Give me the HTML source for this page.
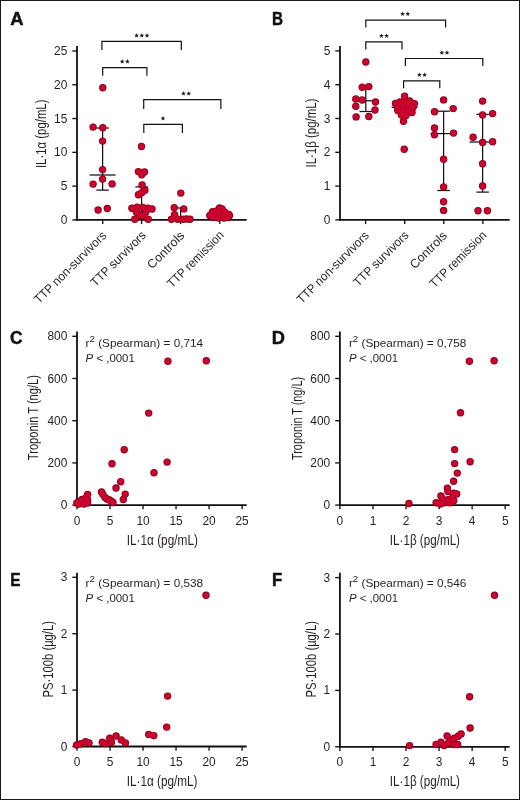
<!DOCTYPE html>
<html><head><meta charset="utf-8"><style>
html,body{margin:0;padding:0;background:#fff;}
body{width:520px;height:800px;overflow:hidden;position:relative;}
.fig{position:absolute;left:0;top:0;width:520px;height:800px;box-sizing:border-box;border:1px solid #1a1a1a;background:#fff;}
svg{position:absolute;left:0;top:0;will-change:transform;}
text{font-family:"Liberation Sans", sans-serif;}
</style></head><body>
<div class="fig"></div>
<svg width="520" height="800" viewBox="0 0 520 800" font-family='"Liberation Sans", sans-serif'>
<text x="0" y="0" transform="translate(10.20 24.60) scale(1.05 1)" font-size="17.5" font-weight="bold" stroke="#111" stroke-width="0.45" fill="#111">A</text>
<line x1="77.00" y1="46.00" x2="77.00" y2="220.80" stroke="#111" stroke-width="1.8"/>
<line x1="72.30" y1="219.90" x2="77.00" y2="219.90" stroke="#111" stroke-width="1.35"/>
<text x="0" y="0" transform="translate(67.30 223.90) scale(0.96 1)" font-size="12.4" text-anchor="end" fill="#231f20">0</text>
<line x1="72.30" y1="186.12" x2="77.00" y2="186.12" stroke="#111" stroke-width="1.35"/>
<text x="0" y="0" transform="translate(67.30 190.12) scale(0.96 1)" font-size="12.4" text-anchor="end" fill="#231f20">5</text>
<line x1="72.30" y1="152.34" x2="77.00" y2="152.34" stroke="#111" stroke-width="1.35"/>
<text x="0" y="0" transform="translate(67.30 156.34) scale(0.96 1)" font-size="12.4" text-anchor="end" fill="#231f20">10</text>
<line x1="72.30" y1="118.56" x2="77.00" y2="118.56" stroke="#111" stroke-width="1.35"/>
<text x="0" y="0" transform="translate(67.30 122.56) scale(0.96 1)" font-size="12.4" text-anchor="end" fill="#231f20">15</text>
<line x1="72.30" y1="84.78" x2="77.00" y2="84.78" stroke="#111" stroke-width="1.35"/>
<text x="0" y="0" transform="translate(67.30 88.78) scale(0.96 1)" font-size="12.4" text-anchor="end" fill="#231f20">20</text>
<line x1="72.30" y1="51.00" x2="77.00" y2="51.00" stroke="#111" stroke-width="1.35"/>
<text x="0" y="0" transform="translate(67.30 55.00) scale(0.96 1)" font-size="12.4" text-anchor="end" fill="#231f20">25</text>
<line x1="76.10" y1="219.90" x2="246.70" y2="219.90" stroke="#111" stroke-width="1.8"/>
<line x1="102.70" y1="219.90" x2="102.70" y2="224.10" stroke="#111" stroke-width="1.35"/>
<line x1="141.60" y1="219.90" x2="141.60" y2="224.10" stroke="#111" stroke-width="1.35"/>
<line x1="180.60" y1="219.90" x2="180.60" y2="224.10" stroke="#111" stroke-width="1.35"/>
<line x1="219.80" y1="219.90" x2="219.80" y2="224.10" stroke="#111" stroke-width="1.35"/>
<text x="46.00" y="168.10" font-size="14.5" textLength="68.60" lengthAdjust="spacingAndGlyphs" transform="rotate(-90 46.00 168.10)" fill="#231f20">IL·1α (pg/mL)</text>
<text x="107.10" y="236.30" font-size="12.3" text-anchor="end" textLength="96.20" lengthAdjust="spacingAndGlyphs" transform="rotate(-45 107.10 236.30)" fill="#231f20">TTP non-survivors</text>
<text x="146.80" y="236.00" font-size="12.3" text-anchor="end" textLength="72.40" lengthAdjust="spacingAndGlyphs" transform="rotate(-45 146.80 236.00)" fill="#231f20">TTP survivors</text>
<text x="185.20" y="236.40" font-size="12.3" text-anchor="end" textLength="46.80" lengthAdjust="spacingAndGlyphs" transform="rotate(-45 185.20 236.40)" fill="#231f20">Controls</text>
<text x="224.70" y="235.80" font-size="12.3" text-anchor="end" textLength="74.60" lengthAdjust="spacingAndGlyphs" transform="rotate(-45 224.70 235.80)" fill="#231f20">TTP remission</text>
<polyline points="101.90,50.10 101.90,41.30 181.30,41.30 181.30,50.10" fill="none" stroke="#111" stroke-width="1.2"/>
<polygon points="136.60,33.10 137.25,34.71 138.98,34.83 137.65,35.94 138.07,37.62 136.60,36.70 135.13,37.62 135.55,35.94 134.22,34.83 135.95,34.71" fill="#231f20"/>
<polygon points="141.80,33.10 142.45,34.71 144.18,34.83 142.85,35.94 143.27,37.62 141.80,36.70 140.33,37.62 140.75,35.94 139.42,34.83 141.15,34.71" fill="#231f20"/>
<polygon points="147.00,33.10 147.65,34.71 149.38,34.83 148.05,35.94 148.47,37.62 147.00,36.70 145.53,37.62 145.95,35.94 144.62,34.83 146.35,34.71" fill="#231f20"/>
<polyline points="102.70,75.80 102.70,67.70 146.90,67.70 146.90,75.80" fill="none" stroke="#111" stroke-width="1.2"/>
<polygon points="122.20,59.10 122.85,60.71 124.58,60.83 123.25,61.94 123.67,63.62 122.20,62.70 120.73,63.62 121.15,61.94 119.82,60.83 121.55,60.71" fill="#231f20"/>
<polygon points="127.40,59.10 128.05,60.71 129.78,60.83 128.45,61.94 128.87,63.62 127.40,62.70 125.93,63.62 126.35,61.94 125.02,60.83 126.75,60.71" fill="#231f20"/>
<polyline points="143.70,109.00 143.70,99.60 220.90,99.60 220.90,109.00" fill="none" stroke="#111" stroke-width="1.2"/>
<polygon points="183.50,91.10 184.15,92.71 185.88,92.83 184.55,93.94 184.97,95.62 183.50,94.70 182.03,95.62 182.45,93.94 181.12,92.83 182.85,92.71" fill="#231f20"/>
<polygon points="188.70,91.10 189.35,92.71 191.08,92.83 189.75,93.94 190.17,95.62 188.70,94.70 187.23,95.62 187.65,93.94 186.32,92.83 188.05,92.71" fill="#231f20"/>
<polyline points="143.80,133.10 143.80,124.40 182.40,124.40 182.40,133.10" fill="none" stroke="#111" stroke-width="1.2"/>
<polygon points="163.00,116.00 163.65,117.61 165.38,117.73 164.05,118.84 164.47,120.52 163.00,119.60 161.53,120.52 161.95,118.84 160.62,117.73 162.35,117.61" fill="#231f20"/>
<line x1="102.60" y1="128.00" x2="102.60" y2="190.10" stroke="#111" stroke-width="1.25"/>
<line x1="96.35" y1="128.00" x2="108.85" y2="128.00" stroke="#111" stroke-width="1.25"/>
<line x1="96.35" y1="190.10" x2="108.85" y2="190.10" stroke="#111" stroke-width="1.25"/>
<line x1="89.60" y1="175.00" x2="115.60" y2="175.00" stroke="#111" stroke-width="1.25"/>
<line x1="141.60" y1="186.90" x2="141.60" y2="212.00" stroke="#111" stroke-width="1.25"/>
<line x1="135.35" y1="186.90" x2="147.85" y2="186.90" stroke="#111" stroke-width="1.25"/>
<line x1="135.35" y1="212.00" x2="147.85" y2="212.00" stroke="#111" stroke-width="1.25"/>
<line x1="128.60" y1="208.00" x2="154.60" y2="208.00" stroke="#111" stroke-width="1.25"/>
<line x1="180.60" y1="208.00" x2="180.60" y2="217.00" stroke="#111" stroke-width="1.25"/>
<line x1="174.35" y1="208.00" x2="186.85" y2="208.00" stroke="#111" stroke-width="1.25"/>
<line x1="174.35" y1="217.00" x2="186.85" y2="217.00" stroke="#111" stroke-width="1.25"/>
<text x="0" y="0" transform="translate(272.00 24.60) scale(0.87 1)" font-size="17.5" font-weight="bold" stroke="#111" stroke-width="0.45" fill="#111">B</text>
<line x1="340.00" y1="46.00" x2="340.00" y2="220.80" stroke="#111" stroke-width="1.8"/>
<line x1="335.30" y1="219.90" x2="340.00" y2="219.90" stroke="#111" stroke-width="1.35"/>
<text x="0" y="0" transform="translate(330.40 223.90) scale(0.96 1)" font-size="12.4" text-anchor="end" fill="#231f20">0</text>
<line x1="335.30" y1="186.10" x2="340.00" y2="186.10" stroke="#111" stroke-width="1.35"/>
<text x="0" y="0" transform="translate(330.40 190.10) scale(0.96 1)" font-size="12.4" text-anchor="end" fill="#231f20">1</text>
<line x1="335.30" y1="152.30" x2="340.00" y2="152.30" stroke="#111" stroke-width="1.35"/>
<text x="0" y="0" transform="translate(330.40 156.30) scale(0.96 1)" font-size="12.4" text-anchor="end" fill="#231f20">2</text>
<line x1="335.30" y1="118.50" x2="340.00" y2="118.50" stroke="#111" stroke-width="1.35"/>
<text x="0" y="0" transform="translate(330.40 122.50) scale(0.96 1)" font-size="12.4" text-anchor="end" fill="#231f20">3</text>
<line x1="335.30" y1="84.70" x2="340.00" y2="84.70" stroke="#111" stroke-width="1.35"/>
<text x="0" y="0" transform="translate(330.40 88.70) scale(0.96 1)" font-size="12.4" text-anchor="end" fill="#231f20">4</text>
<line x1="335.30" y1="50.90" x2="340.00" y2="50.90" stroke="#111" stroke-width="1.35"/>
<text x="0" y="0" transform="translate(330.40 54.90) scale(0.96 1)" font-size="12.4" text-anchor="end" fill="#231f20">5</text>
<line x1="339.10" y1="219.90" x2="509.70" y2="219.90" stroke="#111" stroke-width="1.8"/>
<line x1="365.60" y1="219.90" x2="365.60" y2="224.10" stroke="#111" stroke-width="1.35"/>
<line x1="404.70" y1="219.90" x2="404.70" y2="224.10" stroke="#111" stroke-width="1.35"/>
<line x1="443.80" y1="219.90" x2="443.80" y2="224.10" stroke="#111" stroke-width="1.35"/>
<line x1="482.90" y1="219.90" x2="482.90" y2="224.10" stroke="#111" stroke-width="1.35"/>
<text x="315.60" y="167.50" font-size="14.5" textLength="69.00" lengthAdjust="spacingAndGlyphs" transform="rotate(-90 315.60 167.50)" fill="#231f20">IL·1β (pg/mL)</text>
<text x="369.70" y="236.30" font-size="12.3" text-anchor="end" textLength="96.20" lengthAdjust="spacingAndGlyphs" transform="rotate(-45 369.70 236.30)" fill="#231f20">TTP non-survivors</text>
<text x="409.40" y="236.00" font-size="12.3" text-anchor="end" textLength="72.40" lengthAdjust="spacingAndGlyphs" transform="rotate(-45 409.40 236.00)" fill="#231f20">TTP survivors</text>
<text x="447.80" y="236.40" font-size="12.3" text-anchor="end" textLength="46.80" lengthAdjust="spacingAndGlyphs" transform="rotate(-45 447.80 236.40)" fill="#231f20">Controls</text>
<text x="487.30" y="235.80" font-size="12.3" text-anchor="end" textLength="74.60" lengthAdjust="spacingAndGlyphs" transform="rotate(-45 487.30 235.80)" fill="#231f20">TTP remission</text>
<polyline points="365.80,27.50 365.80,20.10 445.60,20.10 445.60,27.50" fill="none" stroke="#111" stroke-width="1.2"/>
<polygon points="402.60,11.50 403.25,13.11 404.98,13.23 403.65,14.34 404.07,16.02 402.60,15.10 401.13,16.02 401.55,14.34 400.22,13.23 401.95,13.11" fill="#231f20"/>
<polygon points="407.80,11.50 408.45,13.11 410.18,13.23 408.85,14.34 409.27,16.02 407.80,15.10 406.33,16.02 406.75,14.34 405.42,13.23 407.15,13.11" fill="#231f20"/>
<polyline points="365.80,49.50 365.80,41.80 402.00,41.80 402.00,49.50" fill="none" stroke="#111" stroke-width="1.2"/>
<polygon points="381.40,33.50 382.05,35.11 383.78,35.23 382.45,36.34 382.87,38.02 381.40,37.10 379.93,38.02 380.35,36.34 379.02,35.23 380.75,35.11" fill="#231f20"/>
<polygon points="386.60,33.50 387.25,35.11 388.98,35.23 387.65,36.34 388.07,38.02 386.60,37.10 385.13,38.02 385.55,36.34 384.22,35.23 385.95,35.11" fill="#231f20"/>
<polyline points="405.40,65.90 405.40,58.50 482.80,58.50 482.80,65.90" fill="none" stroke="#111" stroke-width="1.2"/>
<polygon points="441.80,50.20 442.45,51.81 444.18,51.93 442.85,53.04 443.27,54.72 441.80,53.80 440.33,54.72 440.75,53.04 439.42,51.93 441.15,51.81" fill="#231f20"/>
<polygon points="447.00,50.20 447.65,51.81 449.38,51.93 448.05,53.04 448.47,54.72 447.00,53.80 445.53,54.72 445.95,53.04 444.62,51.93 446.35,51.81" fill="#231f20"/>
<polyline points="403.60,88.30 403.60,80.80 439.80,80.80 439.80,88.30" fill="none" stroke="#111" stroke-width="1.2"/>
<polygon points="419.40,72.50 420.05,74.11 421.78,74.23 420.45,75.34 420.87,77.02 419.40,76.10 417.93,77.02 418.35,75.34 417.02,74.23 418.75,74.11" fill="#231f20"/>
<polygon points="424.60,72.50 425.25,74.11 426.98,74.23 425.65,75.34 426.07,77.02 424.60,76.10 423.13,77.02 423.55,75.34 422.22,74.23 423.95,74.11" fill="#231f20"/>
<line x1="365.80" y1="86.90" x2="365.80" y2="111.50" stroke="#111" stroke-width="1.25"/>
<line x1="359.55" y1="86.90" x2="372.05" y2="86.90" stroke="#111" stroke-width="1.25"/>
<line x1="359.55" y1="111.50" x2="372.05" y2="111.50" stroke="#111" stroke-width="1.25"/>
<line x1="352.80" y1="100.80" x2="378.80" y2="100.80" stroke="#111" stroke-width="1.25"/>
<line x1="404.60" y1="101.50" x2="404.60" y2="113.00" stroke="#111" stroke-width="1.25"/>
<line x1="398.35" y1="101.50" x2="410.85" y2="101.50" stroke="#111" stroke-width="1.25"/>
<line x1="398.35" y1="113.00" x2="410.85" y2="113.00" stroke="#111" stroke-width="1.25"/>
<line x1="391.60" y1="107.30" x2="417.60" y2="107.30" stroke="#111" stroke-width="1.25"/>
<line x1="443.60" y1="111.20" x2="443.60" y2="190.50" stroke="#111" stroke-width="1.25"/>
<line x1="437.35" y1="111.20" x2="449.85" y2="111.20" stroke="#111" stroke-width="1.25"/>
<line x1="437.35" y1="190.50" x2="449.85" y2="190.50" stroke="#111" stroke-width="1.25"/>
<line x1="430.60" y1="133.60" x2="456.60" y2="133.60" stroke="#111" stroke-width="1.25"/>
<line x1="482.60" y1="114.40" x2="482.60" y2="192.10" stroke="#111" stroke-width="1.25"/>
<line x1="476.35" y1="114.40" x2="488.85" y2="114.40" stroke="#111" stroke-width="1.25"/>
<line x1="476.35" y1="192.10" x2="488.85" y2="192.10" stroke="#111" stroke-width="1.25"/>
<line x1="469.60" y1="142.00" x2="495.60" y2="142.00" stroke="#111" stroke-width="1.25"/>
<text x="0" y="0" transform="translate(10.00 344.00) scale(0.99 1)" font-size="17.5" font-weight="bold" stroke="#111" stroke-width="0.45" fill="#111">C</text>
<line x1="77.00" y1="331.50" x2="77.00" y2="506.00" stroke="#111" stroke-width="1.8"/>
<line x1="72.30" y1="505.10" x2="77.00" y2="505.10" stroke="#111" stroke-width="1.35"/>
<text x="0" y="0" transform="translate(67.30 509.10) scale(0.96 1)" font-size="12.4" text-anchor="end" fill="#231f20">0</text>
<line x1="72.30" y1="462.90" x2="77.00" y2="462.90" stroke="#111" stroke-width="1.35"/>
<text x="0" y="0" transform="translate(67.30 466.90) scale(0.96 1)" font-size="12.4" text-anchor="end" fill="#231f20">200</text>
<line x1="72.30" y1="420.70" x2="77.00" y2="420.70" stroke="#111" stroke-width="1.35"/>
<text x="0" y="0" transform="translate(67.30 424.70) scale(0.96 1)" font-size="12.4" text-anchor="end" fill="#231f20">400</text>
<line x1="72.30" y1="378.50" x2="77.00" y2="378.50" stroke="#111" stroke-width="1.35"/>
<text x="0" y="0" transform="translate(67.30 382.50) scale(0.96 1)" font-size="12.4" text-anchor="end" fill="#231f20">600</text>
<line x1="72.30" y1="336.30" x2="77.00" y2="336.30" stroke="#111" stroke-width="1.35"/>
<text x="0" y="0" transform="translate(67.30 340.30) scale(0.96 1)" font-size="12.4" text-anchor="end" fill="#231f20">800</text>
<line x1="76.10" y1="505.10" x2="246.70" y2="505.10" stroke="#111" stroke-width="1.8"/>
<line x1="77.00" y1="505.10" x2="77.00" y2="509.30" stroke="#111" stroke-width="1.35"/>
<text x="0" y="0" transform="translate(77.00 524.50) scale(0.96 1)" font-size="12.4" text-anchor="middle" fill="#231f20">0</text>
<line x1="110.02" y1="505.10" x2="110.02" y2="509.30" stroke="#111" stroke-width="1.35"/>
<text x="0" y="0" transform="translate(110.02 524.50) scale(0.96 1)" font-size="12.4" text-anchor="middle" fill="#231f20">5</text>
<line x1="143.04" y1="505.10" x2="143.04" y2="509.30" stroke="#111" stroke-width="1.35"/>
<text x="0" y="0" transform="translate(143.04 524.50) scale(0.96 1)" font-size="12.4" text-anchor="middle" fill="#231f20">10</text>
<line x1="176.06" y1="505.10" x2="176.06" y2="509.30" stroke="#111" stroke-width="1.35"/>
<text x="0" y="0" transform="translate(176.06 524.50) scale(0.96 1)" font-size="12.4" text-anchor="middle" fill="#231f20">15</text>
<line x1="209.08" y1="505.10" x2="209.08" y2="509.30" stroke="#111" stroke-width="1.35"/>
<text x="0" y="0" transform="translate(209.08 524.50) scale(0.96 1)" font-size="12.4" text-anchor="middle" fill="#231f20">20</text>
<line x1="242.10" y1="505.10" x2="242.10" y2="509.30" stroke="#111" stroke-width="1.35"/>
<text x="0" y="0" transform="translate(242.10 524.50) scale(0.96 1)" font-size="12.4" text-anchor="middle" fill="#231f20">25</text>
<text x="38.50" y="460.20" font-size="14.5" textLength="85.20" lengthAdjust="spacingAndGlyphs" transform="rotate(-90 38.50 460.20)" fill="#231f20">Troponin T (ng/L)</text>
<text x="126.70" y="544.50" font-size="14.5" textLength="71.20" lengthAdjust="spacingAndGlyphs" fill="#231f20">IL·1α (pg/mL)</text>
<text x="85.60" y="346.70" font-size="11.2" textLength="117.50" lengthAdjust="spacingAndGlyphs" fill="#231f20">r<tspan dy="-5" font-size="9.2">2</tspan><tspan dy="5"> (Spearman) = 0,714</tspan></text>
<text x="85.60" y="361.70" font-size="11.2" textLength="49.20" lengthAdjust="spacingAndGlyphs" fill="#231f20"><tspan font-style="italic">P</tspan> &lt; ,0001</text>
<text x="0" y="0" transform="translate(271.80 344.00) scale(1.04 1)" font-size="17.5" font-weight="bold" stroke="#111" stroke-width="0.45" fill="#111">D</text>
<line x1="339.90" y1="331.50" x2="339.90" y2="506.00" stroke="#111" stroke-width="1.8"/>
<line x1="335.20" y1="505.10" x2="339.90" y2="505.10" stroke="#111" stroke-width="1.35"/>
<text x="0" y="0" transform="translate(330.20 509.10) scale(0.96 1)" font-size="12.4" text-anchor="end" fill="#231f20">0</text>
<line x1="335.20" y1="462.90" x2="339.90" y2="462.90" stroke="#111" stroke-width="1.35"/>
<text x="0" y="0" transform="translate(330.20 466.90) scale(0.96 1)" font-size="12.4" text-anchor="end" fill="#231f20">200</text>
<line x1="335.20" y1="420.70" x2="339.90" y2="420.70" stroke="#111" stroke-width="1.35"/>
<text x="0" y="0" transform="translate(330.20 424.70) scale(0.96 1)" font-size="12.4" text-anchor="end" fill="#231f20">400</text>
<line x1="335.20" y1="378.50" x2="339.90" y2="378.50" stroke="#111" stroke-width="1.35"/>
<text x="0" y="0" transform="translate(330.20 382.50) scale(0.96 1)" font-size="12.4" text-anchor="end" fill="#231f20">600</text>
<line x1="335.20" y1="336.30" x2="339.90" y2="336.30" stroke="#111" stroke-width="1.35"/>
<text x="0" y="0" transform="translate(330.20 340.30) scale(0.96 1)" font-size="12.4" text-anchor="end" fill="#231f20">800</text>
<line x1="339.00" y1="505.10" x2="509.60" y2="505.10" stroke="#111" stroke-width="1.8"/>
<line x1="339.90" y1="505.10" x2="339.90" y2="509.30" stroke="#111" stroke-width="1.35"/>
<text x="0" y="0" transform="translate(339.90 524.50) scale(0.96 1)" font-size="12.4" text-anchor="middle" fill="#231f20">0</text>
<line x1="372.96" y1="505.10" x2="372.96" y2="509.30" stroke="#111" stroke-width="1.35"/>
<text x="0" y="0" transform="translate(372.96 524.50) scale(0.96 1)" font-size="12.4" text-anchor="middle" fill="#231f20">1</text>
<line x1="406.02" y1="505.10" x2="406.02" y2="509.30" stroke="#111" stroke-width="1.35"/>
<text x="0" y="0" transform="translate(406.02 524.50) scale(0.96 1)" font-size="12.4" text-anchor="middle" fill="#231f20">2</text>
<line x1="439.08" y1="505.10" x2="439.08" y2="509.30" stroke="#111" stroke-width="1.35"/>
<text x="0" y="0" transform="translate(439.08 524.50) scale(0.96 1)" font-size="12.4" text-anchor="middle" fill="#231f20">3</text>
<line x1="472.14" y1="505.10" x2="472.14" y2="509.30" stroke="#111" stroke-width="1.35"/>
<text x="0" y="0" transform="translate(472.14 524.50) scale(0.96 1)" font-size="12.4" text-anchor="middle" fill="#231f20">4</text>
<line x1="505.20" y1="505.10" x2="505.20" y2="509.30" stroke="#111" stroke-width="1.35"/>
<text x="0" y="0" transform="translate(505.20 524.50) scale(0.96 1)" font-size="12.4" text-anchor="middle" fill="#231f20">5</text>
<text x="301.90" y="460.00" font-size="14.5" textLength="83.10" lengthAdjust="spacingAndGlyphs" transform="rotate(-90 301.90 460.00)" fill="#231f20">Troponin T (ng/L)</text>
<text x="389.80" y="544.50" font-size="14.5" textLength="70.20" lengthAdjust="spacingAndGlyphs" fill="#231f20">IL·1β (pg/mL)</text>
<text x="348.90" y="346.70" font-size="11.2" textLength="117.50" lengthAdjust="spacingAndGlyphs" fill="#231f20">r<tspan dy="-5" font-size="9.2">2</tspan><tspan dy="5"> (Spearman) = 0,758</tspan></text>
<text x="348.90" y="361.70" font-size="11.2" textLength="49.20" lengthAdjust="spacingAndGlyphs" fill="#231f20"><tspan font-style="italic">P</tspan> &lt; ,0001</text>
<text x="0" y="0" transform="translate(10.20 585.80) scale(0.88 1)" font-size="17.5" font-weight="bold" stroke="#111" stroke-width="0.45" fill="#111">E</text>
<line x1="77.00" y1="572.70" x2="77.00" y2="747.40" stroke="#111" stroke-width="1.8"/>
<line x1="72.30" y1="746.50" x2="77.00" y2="746.50" stroke="#111" stroke-width="1.35"/>
<text x="0" y="0" transform="translate(67.30 750.50) scale(0.96 1)" font-size="12.4" text-anchor="end" fill="#231f20">0</text>
<line x1="72.30" y1="690.10" x2="77.00" y2="690.10" stroke="#111" stroke-width="1.35"/>
<text x="0" y="0" transform="translate(67.30 694.10) scale(0.96 1)" font-size="12.4" text-anchor="end" fill="#231f20">1</text>
<line x1="72.30" y1="633.70" x2="77.00" y2="633.70" stroke="#111" stroke-width="1.35"/>
<text x="0" y="0" transform="translate(67.30 637.70) scale(0.96 1)" font-size="12.4" text-anchor="end" fill="#231f20">2</text>
<line x1="72.30" y1="577.30" x2="77.00" y2="577.30" stroke="#111" stroke-width="1.35"/>
<text x="0" y="0" transform="translate(67.30 581.30) scale(0.96 1)" font-size="12.4" text-anchor="end" fill="#231f20">3</text>
<line x1="76.10" y1="746.50" x2="246.70" y2="746.50" stroke="#111" stroke-width="1.8"/>
<line x1="77.00" y1="746.50" x2="77.00" y2="750.70" stroke="#111" stroke-width="1.35"/>
<text x="0" y="0" transform="translate(77.00 765.90) scale(0.96 1)" font-size="12.4" text-anchor="middle" fill="#231f20">0</text>
<line x1="110.02" y1="746.50" x2="110.02" y2="750.70" stroke="#111" stroke-width="1.35"/>
<text x="0" y="0" transform="translate(110.02 765.90) scale(0.96 1)" font-size="12.4" text-anchor="middle" fill="#231f20">5</text>
<line x1="143.04" y1="746.50" x2="143.04" y2="750.70" stroke="#111" stroke-width="1.35"/>
<text x="0" y="0" transform="translate(143.04 765.90) scale(0.96 1)" font-size="12.4" text-anchor="middle" fill="#231f20">10</text>
<line x1="176.06" y1="746.50" x2="176.06" y2="750.70" stroke="#111" stroke-width="1.35"/>
<text x="0" y="0" transform="translate(176.06 765.90) scale(0.96 1)" font-size="12.4" text-anchor="middle" fill="#231f20">15</text>
<line x1="209.08" y1="746.50" x2="209.08" y2="750.70" stroke="#111" stroke-width="1.35"/>
<text x="0" y="0" transform="translate(209.08 765.90) scale(0.96 1)" font-size="12.4" text-anchor="middle" fill="#231f20">20</text>
<line x1="242.10" y1="746.50" x2="242.10" y2="750.70" stroke="#111" stroke-width="1.35"/>
<text x="0" y="0" transform="translate(242.10 765.90) scale(0.96 1)" font-size="12.4" text-anchor="middle" fill="#231f20">25</text>
<text x="52.75" y="697.50" font-size="14.5" textLength="76.50" lengthAdjust="spacingAndGlyphs" transform="rotate(-90 52.75 697.50)" fill="#231f20">PS·100b (µg/L)</text>
<text x="126.70" y="785.90" font-size="14.5" textLength="70.80" lengthAdjust="spacingAndGlyphs" fill="#231f20">IL·1α (pg/mL)</text>
<text x="85.60" y="586.60" font-size="11.2" textLength="117.50" lengthAdjust="spacingAndGlyphs" fill="#231f20">r<tspan dy="-5" font-size="9.2">2</tspan><tspan dy="5"> (Spearman) = 0,538</tspan></text>
<text x="85.60" y="601.60" font-size="11.2" textLength="49.20" lengthAdjust="spacingAndGlyphs" fill="#231f20"><tspan font-style="italic">P</tspan> &lt; ,0001</text>
<text x="0" y="0" transform="translate(271.90 585.80) scale(0.96 1)" font-size="17.5" font-weight="bold" stroke="#111" stroke-width="0.45" fill="#111">F</text>
<line x1="339.90" y1="572.70" x2="339.90" y2="747.70" stroke="#111" stroke-width="1.8"/>
<line x1="335.20" y1="746.80" x2="339.90" y2="746.80" stroke="#111" stroke-width="1.35"/>
<text x="0" y="0" transform="translate(330.20 750.80) scale(0.96 1)" font-size="12.4" text-anchor="end" fill="#231f20">0</text>
<line x1="335.20" y1="690.40" x2="339.90" y2="690.40" stroke="#111" stroke-width="1.35"/>
<text x="0" y="0" transform="translate(330.20 694.40) scale(0.96 1)" font-size="12.4" text-anchor="end" fill="#231f20">1</text>
<line x1="335.20" y1="634.00" x2="339.90" y2="634.00" stroke="#111" stroke-width="1.35"/>
<text x="0" y="0" transform="translate(330.20 638.00) scale(0.96 1)" font-size="12.4" text-anchor="end" fill="#231f20">2</text>
<line x1="335.20" y1="577.60" x2="339.90" y2="577.60" stroke="#111" stroke-width="1.35"/>
<text x="0" y="0" transform="translate(330.20 581.60) scale(0.96 1)" font-size="12.4" text-anchor="end" fill="#231f20">3</text>
<line x1="339.00" y1="746.80" x2="509.60" y2="746.80" stroke="#111" stroke-width="1.8"/>
<line x1="339.90" y1="746.80" x2="339.90" y2="751.00" stroke="#111" stroke-width="1.35"/>
<text x="0" y="0" transform="translate(339.90 766.20) scale(0.96 1)" font-size="12.4" text-anchor="middle" fill="#231f20">0</text>
<line x1="372.96" y1="746.80" x2="372.96" y2="751.00" stroke="#111" stroke-width="1.35"/>
<text x="0" y="0" transform="translate(372.96 766.20) scale(0.96 1)" font-size="12.4" text-anchor="middle" fill="#231f20">1</text>
<line x1="406.02" y1="746.80" x2="406.02" y2="751.00" stroke="#111" stroke-width="1.35"/>
<text x="0" y="0" transform="translate(406.02 766.20) scale(0.96 1)" font-size="12.4" text-anchor="middle" fill="#231f20">2</text>
<line x1="439.08" y1="746.80" x2="439.08" y2="751.00" stroke="#111" stroke-width="1.35"/>
<text x="0" y="0" transform="translate(439.08 766.20) scale(0.96 1)" font-size="12.4" text-anchor="middle" fill="#231f20">3</text>
<line x1="472.14" y1="746.80" x2="472.14" y2="751.00" stroke="#111" stroke-width="1.35"/>
<text x="0" y="0" transform="translate(472.14 766.20) scale(0.96 1)" font-size="12.4" text-anchor="middle" fill="#231f20">4</text>
<line x1="505.20" y1="746.80" x2="505.20" y2="751.00" stroke="#111" stroke-width="1.35"/>
<text x="0" y="0" transform="translate(505.20 766.20) scale(0.96 1)" font-size="12.4" text-anchor="middle" fill="#231f20">5</text>
<text x="315.60" y="697.50" font-size="14.5" textLength="76.50" lengthAdjust="spacingAndGlyphs" transform="rotate(-90 315.60 697.50)" fill="#231f20">PS·100b (µg/L)</text>
<text x="389.80" y="786.20" font-size="14.5" textLength="70.20" lengthAdjust="spacingAndGlyphs" fill="#231f20">IL·1β (pg/mL)</text>
<text x="348.90" y="586.60" font-size="11.2" textLength="117.50" lengthAdjust="spacingAndGlyphs" fill="#231f20">r<tspan dy="-5" font-size="9.2">2</tspan><tspan dy="5"> (Spearman) = 0,546</tspan></text>
<text x="348.90" y="601.60" font-size="11.2" textLength="49.20" lengthAdjust="spacingAndGlyphs" fill="#231f20"><tspan font-style="italic">P</tspan> &lt; ,0001</text>
<g fill="#84001a">
<circle cx="102.80" cy="87.70" r="3.70"/>
<circle cx="93.10" cy="127.10" r="3.70"/>
<circle cx="102.80" cy="127.70" r="3.70"/>
<circle cx="102.60" cy="141.10" r="3.70"/>
<circle cx="102.60" cy="169.60" r="3.70"/>
<circle cx="102.60" cy="179.10" r="3.70"/>
<circle cx="93.10" cy="184.10" r="3.70"/>
<circle cx="112.10" cy="183.90" r="3.70"/>
<circle cx="98.10" cy="210.00" r="3.70"/>
<circle cx="107.30" cy="208.50" r="3.70"/>
<circle cx="141.50" cy="146.40" r="3.70"/>
<circle cx="138.40" cy="171.60" r="3.70"/>
<circle cx="144.50" cy="172.00" r="3.70"/>
<circle cx="141.70" cy="174.80" r="3.70"/>
<circle cx="142.10" cy="185.00" r="3.70"/>
<circle cx="144.90" cy="190.30" r="3.70"/>
<circle cx="141.70" cy="192.70" r="3.70"/>
<circle cx="138.40" cy="194.80" r="3.70"/>
<circle cx="131.90" cy="208.30" r="3.70"/>
<circle cx="137.10" cy="207.30" r="3.70"/>
<circle cx="142.80" cy="207.50" r="3.70"/>
<circle cx="147.90" cy="208.10" r="3.70"/>
<circle cx="152.00" cy="209.00" r="3.70"/>
<circle cx="136.50" cy="212.30" r="3.70"/>
<circle cx="145.80" cy="212.10" r="3.70"/>
<circle cx="139.80" cy="215.50" r="3.70"/>
<circle cx="143.60" cy="215.80" r="3.70"/>
<circle cx="134.80" cy="219.30" r="3.70"/>
<circle cx="148.20" cy="219.30" r="3.70"/>
<circle cx="180.80" cy="193.10" r="3.70"/>
<circle cx="174.20" cy="207.70" r="3.70"/>
<circle cx="183.80" cy="208.90" r="3.70"/>
<circle cx="174.60" cy="214.60" r="3.70"/>
<circle cx="171.50" cy="219.20" r="3.70"/>
<circle cx="177.70" cy="219.20" r="3.70"/>
<circle cx="183.00" cy="219.20" r="3.70"/>
<circle cx="190.00" cy="219.20" r="3.70"/>
<circle cx="186.50" cy="219.00" r="3.70"/>
<circle cx="219.50" cy="208.00" r="3.70"/>
<circle cx="222.00" cy="209.00" r="3.70"/>
<circle cx="212.50" cy="211.80" r="3.70"/>
<circle cx="216.50" cy="211.00" r="3.70"/>
<circle cx="224.50" cy="212.00" r="3.70"/>
<circle cx="228.50" cy="214.30" r="3.70"/>
<circle cx="229.50" cy="215.50" r="3.70"/>
<circle cx="209.80" cy="215.50" r="3.70"/>
<circle cx="213.50" cy="215.50" r="3.70"/>
<circle cx="219.00" cy="214.50" r="3.70"/>
<circle cx="223.50" cy="216.00" r="3.70"/>
<circle cx="213.00" cy="217.50" r="3.70"/>
<circle cx="218.50" cy="218.00" r="3.70"/>
<circle cx="224.00" cy="218.00" r="3.70"/>
<circle cx="228.00" cy="217.50" r="3.70"/>
<circle cx="365.80" cy="62.00" r="3.70"/>
<circle cx="362.20" cy="87.20" r="3.70"/>
<circle cx="368.80" cy="86.60" r="3.70"/>
<circle cx="355.80" cy="98.90" r="3.70"/>
<circle cx="362.20" cy="100.00" r="3.70"/>
<circle cx="375.50" cy="102.00" r="3.70"/>
<circle cx="355.80" cy="106.20" r="3.70"/>
<circle cx="375.00" cy="110.00" r="3.70"/>
<circle cx="356.10" cy="116.90" r="3.70"/>
<circle cx="368.80" cy="116.50" r="3.70"/>
<circle cx="404.60" cy="96.20" r="3.70"/>
<circle cx="395.50" cy="103.50" r="3.70"/>
<circle cx="400.00" cy="102.00" r="3.70"/>
<circle cx="405.00" cy="101.60" r="3.70"/>
<circle cx="409.60" cy="101.00" r="3.70"/>
<circle cx="414.50" cy="103.60" r="3.70"/>
<circle cx="397.50" cy="107.50" r="3.70"/>
<circle cx="403.00" cy="106.50" r="3.70"/>
<circle cx="408.50" cy="106.00" r="3.70"/>
<circle cx="413.00" cy="107.50" r="3.70"/>
<circle cx="397.80" cy="110.60" r="3.70"/>
<circle cx="402.50" cy="111.00" r="3.70"/>
<circle cx="407.50" cy="111.00" r="3.70"/>
<circle cx="412.00" cy="112.50" r="3.70"/>
<circle cx="401.50" cy="115.00" r="3.70"/>
<circle cx="406.00" cy="115.50" r="3.70"/>
<circle cx="403.50" cy="121.20" r="3.70"/>
<circle cx="404.20" cy="149.20" r="3.70"/>
<circle cx="443.60" cy="99.90" r="3.70"/>
<circle cx="434.50" cy="111.70" r="3.70"/>
<circle cx="453.20" cy="108.60" r="3.70"/>
<circle cx="434.50" cy="128.00" r="3.70"/>
<circle cx="434.50" cy="134.70" r="3.70"/>
<circle cx="453.50" cy="133.10" r="3.70"/>
<circle cx="443.60" cy="159.20" r="3.70"/>
<circle cx="443.60" cy="186.90" r="3.70"/>
<circle cx="443.60" cy="201.70" r="3.70"/>
<circle cx="443.60" cy="210.40" r="3.70"/>
<circle cx="482.60" cy="101.10" r="3.70"/>
<circle cx="482.60" cy="114.90" r="3.70"/>
<circle cx="492.60" cy="113.60" r="3.70"/>
<circle cx="473.10" cy="137.20" r="3.70"/>
<circle cx="482.60" cy="142.50" r="3.70"/>
<circle cx="492.60" cy="141.70" r="3.70"/>
<circle cx="482.60" cy="163.70" r="3.70"/>
<circle cx="482.60" cy="186.00" r="3.70"/>
<circle cx="478.00" cy="210.70" r="3.70"/>
<circle cx="487.40" cy="210.70" r="3.70"/>
<circle cx="167.90" cy="361.20" r="3.70"/>
<circle cx="206.30" cy="360.80" r="3.70"/>
<circle cx="148.70" cy="413.10" r="3.70"/>
<circle cx="167.10" cy="462.10" r="3.70"/>
<circle cx="154.00" cy="472.70" r="3.70"/>
<circle cx="124.20" cy="449.70" r="3.70"/>
<circle cx="112.00" cy="463.80" r="3.70"/>
<circle cx="120.70" cy="481.70" r="3.70"/>
<circle cx="116.00" cy="488.00" r="3.70"/>
<circle cx="125.20" cy="494.10" r="3.70"/>
<circle cx="123.30" cy="499.50" r="3.70"/>
<circle cx="101.50" cy="492.00" r="3.70"/>
<circle cx="103.00" cy="494.50" r="3.70"/>
<circle cx="105.00" cy="497.50" r="3.70"/>
<circle cx="107.00" cy="499.00" r="3.70"/>
<circle cx="109.50" cy="500.00" r="3.70"/>
<circle cx="111.50" cy="501.50" r="3.70"/>
<circle cx="113.00" cy="502.50" r="3.70"/>
<circle cx="76.80" cy="503.00" r="3.70"/>
<circle cx="79.50" cy="501.50" r="3.70"/>
<circle cx="82.00" cy="499.50" r="3.70"/>
<circle cx="81.00" cy="503.50" r="3.70"/>
<circle cx="84.50" cy="502.00" r="3.70"/>
<circle cx="86.50" cy="497.50" r="3.70"/>
<circle cx="87.60" cy="494.50" r="3.70"/>
<circle cx="87.60" cy="500.00" r="3.70"/>
<circle cx="87.60" cy="503.00" r="3.70"/>
<circle cx="84.00" cy="504.00" r="3.70"/>
<circle cx="78.50" cy="504.00" r="3.70"/>
<circle cx="85.50" cy="498.50" r="3.70"/>
<circle cx="469.40" cy="361.20" r="3.70"/>
<circle cx="494.10" cy="360.80" r="3.70"/>
<circle cx="460.50" cy="412.80" r="3.70"/>
<circle cx="454.60" cy="449.60" r="3.70"/>
<circle cx="454.60" cy="463.60" r="3.70"/>
<circle cx="470.10" cy="461.70" r="3.70"/>
<circle cx="457.30" cy="473.10" r="3.70"/>
<circle cx="453.60" cy="481.30" r="3.70"/>
<circle cx="447.30" cy="488.10" r="3.70"/>
<circle cx="447.90" cy="491.60" r="3.70"/>
<circle cx="456.70" cy="494.00" r="3.70"/>
<circle cx="440.90" cy="496.00" r="3.70"/>
<circle cx="453.80" cy="493.10" r="3.70"/>
<circle cx="452.40" cy="497.90" r="3.70"/>
<circle cx="442.30" cy="498.80" r="3.70"/>
<circle cx="448.10" cy="499.80" r="3.70"/>
<circle cx="436.10" cy="502.70" r="3.70"/>
<circle cx="444.20" cy="502.70" r="3.70"/>
<circle cx="450.00" cy="502.70" r="3.70"/>
<circle cx="453.80" cy="500.80" r="3.70"/>
<circle cx="440.40" cy="504.10" r="3.70"/>
<circle cx="408.90" cy="503.50" r="3.70"/>
<circle cx="206.00" cy="595.30" r="3.70"/>
<circle cx="167.60" cy="696.10" r="3.70"/>
<circle cx="166.70" cy="727.10" r="3.70"/>
<circle cx="148.70" cy="734.40" r="3.70"/>
<circle cx="153.80" cy="735.60" r="3.70"/>
<circle cx="76.60" cy="745.00" r="3.70"/>
<circle cx="81.10" cy="743.80" r="3.70"/>
<circle cx="85.50" cy="741.60" r="3.70"/>
<circle cx="89.00" cy="742.90" r="3.70"/>
<circle cx="102.30" cy="742.30" r="3.70"/>
<circle cx="105.20" cy="743.50" r="3.70"/>
<circle cx="109.80" cy="738.30" r="3.70"/>
<circle cx="111.50" cy="742.30" r="3.70"/>
<circle cx="116.10" cy="736.00" r="3.70"/>
<circle cx="121.30" cy="740.00" r="3.70"/>
<circle cx="125.40" cy="742.90" r="3.70"/>
<circle cx="494.50" cy="595.30" r="3.70"/>
<circle cx="469.60" cy="696.80" r="3.70"/>
<circle cx="470.10" cy="728.00" r="3.70"/>
<circle cx="461.10" cy="733.90" r="3.70"/>
<circle cx="458.20" cy="736.30" r="3.70"/>
<circle cx="454.30" cy="738.30" r="3.70"/>
<circle cx="447.10" cy="735.90" r="3.70"/>
<circle cx="450.50" cy="740.20" r="3.70"/>
<circle cx="448.60" cy="742.60" r="3.70"/>
<circle cx="440.90" cy="742.10" r="3.70"/>
<circle cx="436.10" cy="744.50" r="3.70"/>
<circle cx="453.80" cy="744.50" r="3.70"/>
<circle cx="457.70" cy="744.50" r="3.70"/>
<circle cx="444.20" cy="745.50" r="3.70"/>
<circle cx="409.60" cy="745.60" r="3.70"/>
</g>
<g fill="#cc0530" stroke="#b30324" stroke-width="0.3">
<circle cx="102.80" cy="87.70" r="2.85"/>
<circle cx="93.10" cy="127.10" r="2.85"/>
<circle cx="102.80" cy="127.70" r="2.85"/>
<circle cx="102.60" cy="141.10" r="2.85"/>
<circle cx="102.60" cy="169.60" r="2.85"/>
<circle cx="102.60" cy="179.10" r="2.85"/>
<circle cx="93.10" cy="184.10" r="2.85"/>
<circle cx="112.10" cy="183.90" r="2.85"/>
<circle cx="98.10" cy="210.00" r="2.85"/>
<circle cx="107.30" cy="208.50" r="2.85"/>
<circle cx="141.50" cy="146.40" r="2.85"/>
<circle cx="138.40" cy="171.60" r="2.85"/>
<circle cx="144.50" cy="172.00" r="2.85"/>
<circle cx="141.70" cy="174.80" r="2.85"/>
<circle cx="142.10" cy="185.00" r="2.85"/>
<circle cx="144.90" cy="190.30" r="2.85"/>
<circle cx="141.70" cy="192.70" r="2.85"/>
<circle cx="138.40" cy="194.80" r="2.85"/>
<circle cx="131.90" cy="208.30" r="2.85"/>
<circle cx="137.10" cy="207.30" r="2.85"/>
<circle cx="142.80" cy="207.50" r="2.85"/>
<circle cx="147.90" cy="208.10" r="2.85"/>
<circle cx="152.00" cy="209.00" r="2.85"/>
<circle cx="136.50" cy="212.30" r="2.85"/>
<circle cx="145.80" cy="212.10" r="2.85"/>
<circle cx="139.80" cy="215.50" r="2.85"/>
<circle cx="143.60" cy="215.80" r="2.85"/>
<circle cx="134.80" cy="219.30" r="2.85"/>
<circle cx="148.20" cy="219.30" r="2.85"/>
<circle cx="180.80" cy="193.10" r="2.85"/>
<circle cx="174.20" cy="207.70" r="2.85"/>
<circle cx="183.80" cy="208.90" r="2.85"/>
<circle cx="174.60" cy="214.60" r="2.85"/>
<circle cx="171.50" cy="219.20" r="2.85"/>
<circle cx="177.70" cy="219.20" r="2.85"/>
<circle cx="183.00" cy="219.20" r="2.85"/>
<circle cx="190.00" cy="219.20" r="2.85"/>
<circle cx="186.50" cy="219.00" r="2.85"/>
<circle cx="219.50" cy="208.00" r="2.85"/>
<circle cx="222.00" cy="209.00" r="2.85"/>
<circle cx="212.50" cy="211.80" r="2.85"/>
<circle cx="216.50" cy="211.00" r="2.85"/>
<circle cx="224.50" cy="212.00" r="2.85"/>
<circle cx="228.50" cy="214.30" r="2.85"/>
<circle cx="229.50" cy="215.50" r="2.85"/>
<circle cx="209.80" cy="215.50" r="2.85"/>
<circle cx="213.50" cy="215.50" r="2.85"/>
<circle cx="219.00" cy="214.50" r="2.85"/>
<circle cx="223.50" cy="216.00" r="2.85"/>
<circle cx="213.00" cy="217.50" r="2.85"/>
<circle cx="218.50" cy="218.00" r="2.85"/>
<circle cx="224.00" cy="218.00" r="2.85"/>
<circle cx="228.00" cy="217.50" r="2.85"/>
<circle cx="365.80" cy="62.00" r="2.85"/>
<circle cx="362.20" cy="87.20" r="2.85"/>
<circle cx="368.80" cy="86.60" r="2.85"/>
<circle cx="355.80" cy="98.90" r="2.85"/>
<circle cx="362.20" cy="100.00" r="2.85"/>
<circle cx="375.50" cy="102.00" r="2.85"/>
<circle cx="355.80" cy="106.20" r="2.85"/>
<circle cx="375.00" cy="110.00" r="2.85"/>
<circle cx="356.10" cy="116.90" r="2.85"/>
<circle cx="368.80" cy="116.50" r="2.85"/>
<circle cx="404.60" cy="96.20" r="2.85"/>
<circle cx="395.50" cy="103.50" r="2.85"/>
<circle cx="400.00" cy="102.00" r="2.85"/>
<circle cx="405.00" cy="101.60" r="2.85"/>
<circle cx="409.60" cy="101.00" r="2.85"/>
<circle cx="414.50" cy="103.60" r="2.85"/>
<circle cx="397.50" cy="107.50" r="2.85"/>
<circle cx="403.00" cy="106.50" r="2.85"/>
<circle cx="408.50" cy="106.00" r="2.85"/>
<circle cx="413.00" cy="107.50" r="2.85"/>
<circle cx="397.80" cy="110.60" r="2.85"/>
<circle cx="402.50" cy="111.00" r="2.85"/>
<circle cx="407.50" cy="111.00" r="2.85"/>
<circle cx="412.00" cy="112.50" r="2.85"/>
<circle cx="401.50" cy="115.00" r="2.85"/>
<circle cx="406.00" cy="115.50" r="2.85"/>
<circle cx="403.50" cy="121.20" r="2.85"/>
<circle cx="404.20" cy="149.20" r="2.85"/>
<circle cx="443.60" cy="99.90" r="2.85"/>
<circle cx="434.50" cy="111.70" r="2.85"/>
<circle cx="453.20" cy="108.60" r="2.85"/>
<circle cx="434.50" cy="128.00" r="2.85"/>
<circle cx="434.50" cy="134.70" r="2.85"/>
<circle cx="453.50" cy="133.10" r="2.85"/>
<circle cx="443.60" cy="159.20" r="2.85"/>
<circle cx="443.60" cy="186.90" r="2.85"/>
<circle cx="443.60" cy="201.70" r="2.85"/>
<circle cx="443.60" cy="210.40" r="2.85"/>
<circle cx="482.60" cy="101.10" r="2.85"/>
<circle cx="482.60" cy="114.90" r="2.85"/>
<circle cx="492.60" cy="113.60" r="2.85"/>
<circle cx="473.10" cy="137.20" r="2.85"/>
<circle cx="482.60" cy="142.50" r="2.85"/>
<circle cx="492.60" cy="141.70" r="2.85"/>
<circle cx="482.60" cy="163.70" r="2.85"/>
<circle cx="482.60" cy="186.00" r="2.85"/>
<circle cx="478.00" cy="210.70" r="2.85"/>
<circle cx="487.40" cy="210.70" r="2.85"/>
<circle cx="167.90" cy="361.20" r="2.85"/>
<circle cx="206.30" cy="360.80" r="2.85"/>
<circle cx="148.70" cy="413.10" r="2.85"/>
<circle cx="167.10" cy="462.10" r="2.85"/>
<circle cx="154.00" cy="472.70" r="2.85"/>
<circle cx="124.20" cy="449.70" r="2.85"/>
<circle cx="112.00" cy="463.80" r="2.85"/>
<circle cx="120.70" cy="481.70" r="2.85"/>
<circle cx="116.00" cy="488.00" r="2.85"/>
<circle cx="125.20" cy="494.10" r="2.85"/>
<circle cx="123.30" cy="499.50" r="2.85"/>
<circle cx="101.50" cy="492.00" r="2.85"/>
<circle cx="103.00" cy="494.50" r="2.85"/>
<circle cx="105.00" cy="497.50" r="2.85"/>
<circle cx="107.00" cy="499.00" r="2.85"/>
<circle cx="109.50" cy="500.00" r="2.85"/>
<circle cx="111.50" cy="501.50" r="2.85"/>
<circle cx="113.00" cy="502.50" r="2.85"/>
<circle cx="76.80" cy="503.00" r="2.85"/>
<circle cx="79.50" cy="501.50" r="2.85"/>
<circle cx="82.00" cy="499.50" r="2.85"/>
<circle cx="81.00" cy="503.50" r="2.85"/>
<circle cx="84.50" cy="502.00" r="2.85"/>
<circle cx="86.50" cy="497.50" r="2.85"/>
<circle cx="87.60" cy="494.50" r="2.85"/>
<circle cx="87.60" cy="500.00" r="2.85"/>
<circle cx="87.60" cy="503.00" r="2.85"/>
<circle cx="84.00" cy="504.00" r="2.85"/>
<circle cx="78.50" cy="504.00" r="2.85"/>
<circle cx="85.50" cy="498.50" r="2.85"/>
<circle cx="469.40" cy="361.20" r="2.85"/>
<circle cx="494.10" cy="360.80" r="2.85"/>
<circle cx="460.50" cy="412.80" r="2.85"/>
<circle cx="454.60" cy="449.60" r="2.85"/>
<circle cx="454.60" cy="463.60" r="2.85"/>
<circle cx="470.10" cy="461.70" r="2.85"/>
<circle cx="457.30" cy="473.10" r="2.85"/>
<circle cx="453.60" cy="481.30" r="2.85"/>
<circle cx="447.30" cy="488.10" r="2.85"/>
<circle cx="447.90" cy="491.60" r="2.85"/>
<circle cx="456.70" cy="494.00" r="2.85"/>
<circle cx="440.90" cy="496.00" r="2.85"/>
<circle cx="453.80" cy="493.10" r="2.85"/>
<circle cx="452.40" cy="497.90" r="2.85"/>
<circle cx="442.30" cy="498.80" r="2.85"/>
<circle cx="448.10" cy="499.80" r="2.85"/>
<circle cx="436.10" cy="502.70" r="2.85"/>
<circle cx="444.20" cy="502.70" r="2.85"/>
<circle cx="450.00" cy="502.70" r="2.85"/>
<circle cx="453.80" cy="500.80" r="2.85"/>
<circle cx="440.40" cy="504.10" r="2.85"/>
<circle cx="408.90" cy="503.50" r="2.85"/>
<circle cx="206.00" cy="595.30" r="2.85"/>
<circle cx="167.60" cy="696.10" r="2.85"/>
<circle cx="166.70" cy="727.10" r="2.85"/>
<circle cx="148.70" cy="734.40" r="2.85"/>
<circle cx="153.80" cy="735.60" r="2.85"/>
<circle cx="76.60" cy="745.00" r="2.85"/>
<circle cx="81.10" cy="743.80" r="2.85"/>
<circle cx="85.50" cy="741.60" r="2.85"/>
<circle cx="89.00" cy="742.90" r="2.85"/>
<circle cx="102.30" cy="742.30" r="2.85"/>
<circle cx="105.20" cy="743.50" r="2.85"/>
<circle cx="109.80" cy="738.30" r="2.85"/>
<circle cx="111.50" cy="742.30" r="2.85"/>
<circle cx="116.10" cy="736.00" r="2.85"/>
<circle cx="121.30" cy="740.00" r="2.85"/>
<circle cx="125.40" cy="742.90" r="2.85"/>
<circle cx="494.50" cy="595.30" r="2.85"/>
<circle cx="469.60" cy="696.80" r="2.85"/>
<circle cx="470.10" cy="728.00" r="2.85"/>
<circle cx="461.10" cy="733.90" r="2.85"/>
<circle cx="458.20" cy="736.30" r="2.85"/>
<circle cx="454.30" cy="738.30" r="2.85"/>
<circle cx="447.10" cy="735.90" r="2.85"/>
<circle cx="450.50" cy="740.20" r="2.85"/>
<circle cx="448.60" cy="742.60" r="2.85"/>
<circle cx="440.90" cy="742.10" r="2.85"/>
<circle cx="436.10" cy="744.50" r="2.85"/>
<circle cx="453.80" cy="744.50" r="2.85"/>
<circle cx="457.70" cy="744.50" r="2.85"/>
<circle cx="444.20" cy="745.50" r="2.85"/>
<circle cx="409.60" cy="745.60" r="2.85"/>
</g>
</svg>
</body></html>
